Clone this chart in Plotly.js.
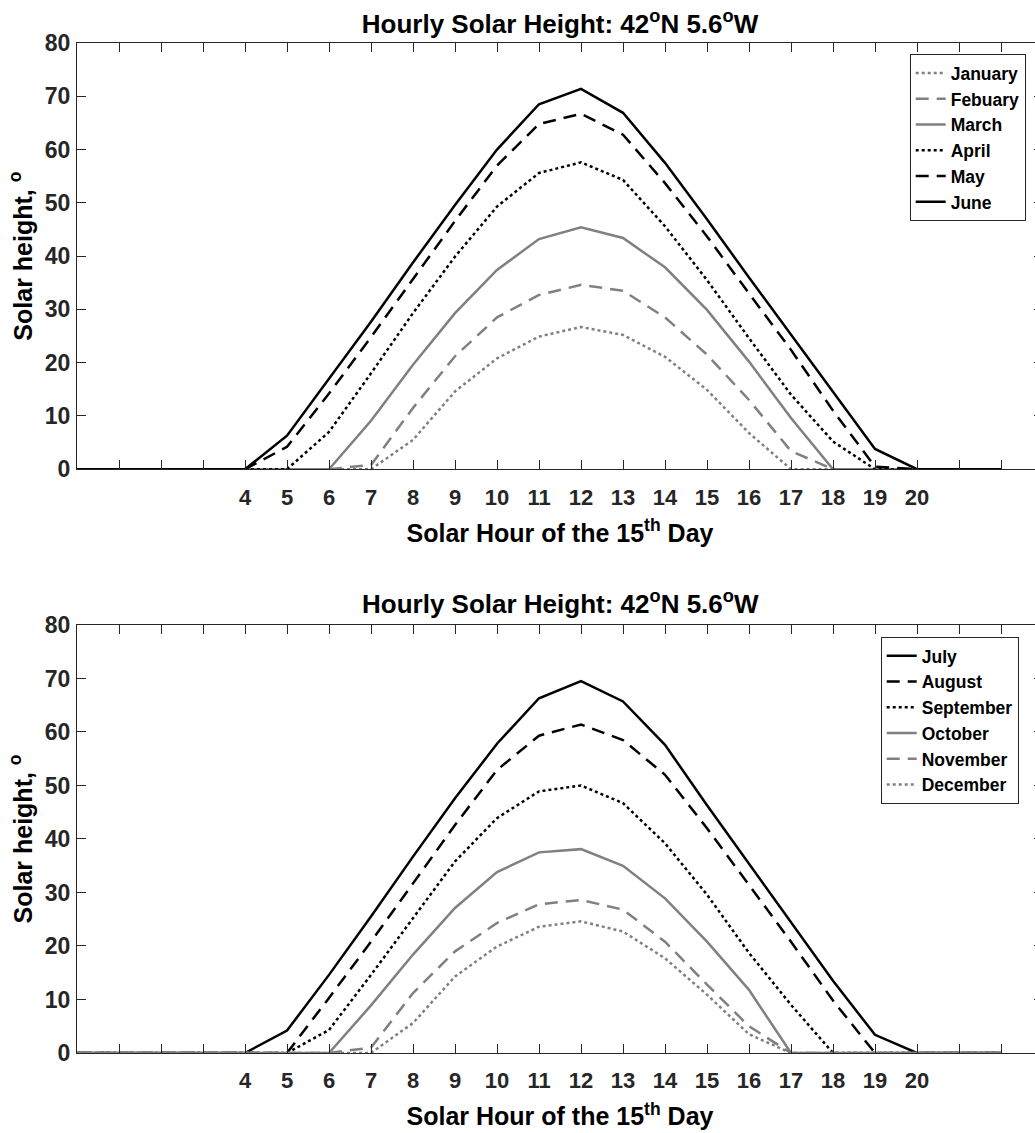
<!DOCTYPE html>
<html>
<head>
<meta charset="utf-8">
<script src="https://cdn.plot.ly/plotly-3.0.1.min.js"></script>
<style>
  html, body { margin: 0; padding: 0; overflow: hidden; background: #fff; }
  #chart { width: 1046px; height: 1133px; }
</style>
</head>
<body>
<div id="chart"></div>
<script>
// Solar hour (x values)
const hours = [0, 1, 2, 3, 4, 5, 6, 7, 8, 9, 10, 11, 12, 13, 14, 15, 16, 17, 18, 19, 20, 21, 22];

// Labelled tick positions and labels (every hour also gets an unlabelled minor tick)
const tickVals = [4, 5, 6, 7, 8, 9, 10, 11, 12, 13, 14, 15, 16, 17, 18, 19, 20];
const tickText = ['4', '5', '6', '7', '8', '9', '10', '11', '12', '13', '14', '15', '16', '17', '18', '19', '20'];
const yTickVals = [0, 10, 20, 30, 40, 50, 60, 70, 80];

// Month names
const monthsTop = ['January', 'Febuary', 'March', 'April', 'May', 'June'];
const monthsBottom = ['July', 'August', 'September', 'October', 'November', 'December'];

// Solar height (degrees), hours 0..22
const january  = [0, 0, 0, 0, 0, 0, 0, 0, 5.5, 14.6, 20.8, 24.9, 26.7, 25.2, 21.1, 14.9, 6.8, 0, 0, 0, 0, 0, 0];
const febuary  = [0, 0, 0, 0, 0, 0, 0, 0.8, 11.5, 21.2, 28.5, 32.7, 34.6, 33.5, 28.5, 21.5, 13.0, 3.4, 0, 0, 0, 0, 0];
const march    = [0, 0, 0, 0, 0, 0, 0, 9.1, 19.6, 29.3, 37.4, 43.2, 45.4, 43.4, 37.9, 29.9, 20.2, 9.6, 0, 0, 0, 0, 0];
const april    = [0, 0, 0, 0, 0, 0, 7.0, 18.0, 29.3, 39.9, 49.3, 55.6, 57.6, 54.3, 45.6, 35.5, 24.6, 14.0, 5.2, 0, 0, 0, 0];
const may      = [0, 0, 0, 0, 0, 4.2, 14.2, 24.8, 35.6, 46.6, 57.0, 64.8, 66.7, 62.8, 53.7, 43.7, 33.0, 22.4, 11.0, 0.5, 0, 0, 0];
const june     = [0, 0, 0, 0, 0, 6.3, 17.1, 27.7, 38.8, 49.6, 60.0, 68.5, 71.4, 66.9, 57.5, 46.9, 36.0, 25.2, 14.5, 3.8, 0, 0, 0];

const july      = [0, 0, 0, 0, 0, 4.2, 14.6, 25.5, 36.7, 47.6, 57.8, 66.3, 69.5, 65.7, 57.6, 46.3, 35.3, 24.4, 13.5, 3.4, 0, 0, 0];
const august    = [0, 0, 0, 0, 0, 0, 10.3, 20.8, 31.7, 42.6, 52.9, 59.3, 61.4, 58.5, 52.0, 42.0, 31.4, 20.8, 9.8, 0, 0, 0, 0];
const september = [0, 0, 0, 0, 0, 0, 4.3, 14.6, 25.2, 35.8, 43.9, 48.9, 50.0, 46.7, 39.2, 29.6, 18.7, 9.0, 0, 0, 0, 0, 0];
const october   = [0, 0, 0, 0, 0, 0, 0, 8.9, 18.4, 27.1, 33.8, 37.5, 38.1, 35.0, 28.9, 20.8, 11.8, 0, 0, 0, 0, 0, 0];
const november  = [0, 0, 0, 0, 0, 0, 0, 1.0, 11.2, 19.0, 24.3, 27.8, 28.6, 26.8, 20.8, 12.8, 5.0, 0, 0, 0, 0, 0, 0];
const december  = [0, 0, 0, 0, 0, 0, 0, 0, 5.6, 14.3, 19.9, 23.6, 24.6, 22.7, 17.7, 10.9, 3.5, 0, 0, 0, 0, 0, 0];

const GRAY = '#808080';
const BLACK = '#000000';
const AXC = '#262626';
const FONT = 'Liberation Sans, Arial, Helvetica, sans-serif';
const DASH = '13px,8px';
const DOT = '3px,3px';
const LW = 2.5;

function tr(name, y, color, dash, xa, ya, leg) {
  return {
    x: hours, y: y, name: name, type: 'scatter', mode: 'lines',
    line: { color: color, width: LW, dash: dash },
    xaxis: xa, yaxis: ya, legend: leg, hoverinfo: 'skip'
  };
}

const data = [
  tr(monthsTop[0], january, GRAY, DOT, 'x', 'y', 'legend'),
  tr(monthsTop[1], febuary, GRAY, DASH, 'x', 'y', 'legend'),
  tr(monthsTop[2], march, GRAY, 'solid', 'x', 'y', 'legend'),
  tr(monthsTop[3], april, BLACK, DOT, 'x', 'y', 'legend'),
  tr(monthsTop[4], may, BLACK, DASH, 'x', 'y', 'legend'),
  tr(monthsTop[5], june, BLACK, 'solid', 'x', 'y', 'legend'),
  tr(monthsBottom[0], july, BLACK, 'solid', 'x2', 'y2', 'legend2'),
  tr(monthsBottom[1], august, BLACK, DASH, 'x2', 'y2', 'legend2'),
  tr(monthsBottom[2], september, BLACK, DOT, 'x2', 'y2', 'legend2'),
  tr(monthsBottom[3], october, GRAY, 'solid', 'x2', 'y2', 'legend2'),
  tr(monthsBottom[4], november, GRAY, DASH, 'x2', 'y2', 'legend2'),
  tr(monthsBottom[5], december, GRAY, DOT, 'x2', 'y2', 'legend2')
];

function xAxis(anchor) {
  return {
    anchor: anchor, domain: [0, 1], range: [0, 23],
    tickmode: 'array', tickvals: tickVals, ticktext: tickText,
    ticks: 'inside', ticklen: 9, tickwidth: 1, tickcolor: AXC,
    minor: { tick0: 0, dtick: 1, ticks: 'inside', ticklen: 9, tickwidth: 1, tickcolor: AXC, showgrid: false },
    showline: true, linecolor: AXC, linewidth: 1, mirror: 'ticks',
    showgrid: false, zeroline: false,
    tickfont: { family: FONT, size: 22, color: AXC, weight: 'bold' },
    ticklabelstandoff: 8,
    title: { text: 'Solar Hour of the 15<sup>th</sup> Day', standoff: 15,
             font: { family: FONT, size: 25, color: '#000', weight: 'bold' } },
    fixedrange: true
  };
}
function yAxis(anchor, domain) {
  return {
    anchor: anchor, domain: domain, range: [0, 80],
    tickmode: 'array', tickvals: yTickVals,
    ticks: 'inside', ticklen: 9, tickwidth: 1, tickcolor: AXC,
    showline: true, linecolor: AXC, linewidth: 1, mirror: 'ticks',
    showgrid: false, zeroline: false,
    tickfont: { family: FONT, size: 23, color: AXC, weight: 'bold' },
    ticklabelstandoff: 1,
    title: { text: 'Solar height, <sup>o</sup>', standoff: 5,
             font: { family: FONT, size: 25, color: '#000', weight: 'bold' } },
    fixedrange: true
  };
}

const legendStyle = {
  bgcolor: '#ffffff', bordercolor: AXC, borderwidth: 1,
  font: { family: FONT, size: 17.5, color: '#000', weight: 'bold' },
  xref: 'paper', yref: 'paper', xanchor: 'left', yanchor: 'top',
  tracegroupgap: 0, itemwidth: 30
};

const titleText = 'Hourly Solar Height: 42<sup>o</sup>N 5.6<sup>o</sup>W';

const layout = {
  width: 1046, height: 1133,
  margin: { l: 77, r: 3, t: 43, b: 80 },
  paper_bgcolor: '#fff', plot_bgcolor: '#fff',
  font: { family: FONT, weight: 'bold', color: '#000' },
  showlegend: true,
  title: { text: titleText, x: 0.5, xref: 'paper', y: 1 - 24 / 1133, yref: 'container', yanchor: 'middle',
           font: { family: FONT, size: 26, color: '#000', weight: 'bold' } },
  xaxis: xAxis('y'),
  yaxis: yAxis('x', [0.578, 1]),
  xaxis2: xAxis('y2'),
  yaxis2: yAxis('x2', [0, 0.4238]),
  legend: Object.assign({}, legendStyle, { x: 0.862, y: 0.989 }),
  legend2: Object.assign({}, legendStyle, { x: 0.832, y: 0.412 }),
  annotations: [
    { text: titleText, xref: 'paper', yref: 'paper', x: 0.5, y: (1053 - 602) / 1010,
      xanchor: 'center', yanchor: 'middle', showarrow: false,
      font: { family: FONT, size: 26, color: '#000', weight: 'bold' } }
  ]
};

Plotly.newPlot('chart', data, layout, { staticPlot: true, displayModeBar: false });
</script>
</body>
</html>
